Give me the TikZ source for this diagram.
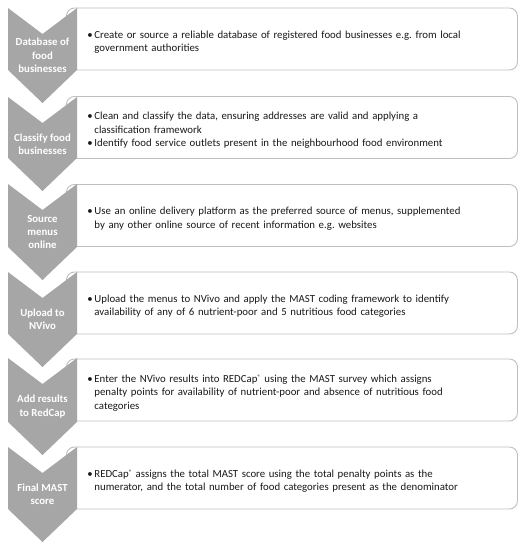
\documentclass[tikz,border=0pt]{standalone}
\usepackage{fontspec}
\setmainfont{Carlito}
\definecolor{chevgray}{RGB}{166, 166, 166}
\definecolor{boxline}{RGB}{191, 191, 191}
\definecolor{bodytext}{RGB}{25, 25, 25}
\usepackage{tikz}
\usetikzlibrary{calc}
\frenchspacing

\tikzset{
  stepbox/.style={draw=boxline, fill=white, line width=0.9pt, rounded corners=8pt,
    anchor=west, minimum width=451, minimum height=62, text width=437,
    inner xsep=7, inner ysep=0, align=left, text=bodytext,
    font=\fontsize{10.8}{13.6}\selectfont},
  chevfill/.style={fill=chevgray},
  chevlabel/.style={text=white, align=center, inner sep=0pt,
    font=\bfseries\fontsize{10.8}{13.4}\selectfont}
}

% bullet point with hanging indent
\newcommand{\bpoint}[1]{\par\leftskip=14pt\hangindent=7pt\hangafter=1\noindent
  \makebox[7pt][l]{\textbullet}#1\par}
\newcommand{\reg}{\raisebox{0.55ex}{\scalebox{0.6}{®}}}

% chevron: name, top, bottom of body, label
\newcommand{\chevron}[4]{%
  \fill[chevfill] (8,#2) -- (42.5,#2+26) -- (77,#2) -- (77,#3) -- (42.5,#3+33) -- (8,#3) -- cycle;
  \node[chevlabel] (#1) at (42.5,{(#2+#3+33)/2}) {#4};
}

\begin{document}
\begin{tikzpicture}[x=1pt, y=-1pt]
  \useasboundingbox (0,0) rectangle (525,550);

  % Step 1: database
  \node[stepbox] (box1) at (66,39) {
    \bpoint{Create or source a reliable database of registered food businesses e.g. from local\newline
    government authorities}
  };
  \chevron{lab1}{8}{70}{Database of\\food\\businesses}

  % Step 2: classify
  \node[stepbox] (box2) at (66,127.5) {
    \bpoint{Clean and classify the data, ensuring addresses are valid and applying a\newline
    classification framework}
    \bpoint{Identify food service outlets present in the neighbourhood food environment}
  };
  \chevron{lab2}{97}{158}{Classify food\\businesses}

  % Step 3: source menus
  \node[stepbox] (box3) at (66,215.5) {
    \bpoint{Use an online delivery platform as the preferred source of menus, supplemented\newline
    by any other online source of recent information e.g. websites}
  };
  \chevron{lab3}{184}{247}{Source\\menus\\online}

  % Step 4: upload
  \node[stepbox] (box4) at (66,303) {
    \bpoint{Upload the menus to NVivo and apply the MAST coding framework to identify\newline
    availability of any of 6 nutrient-poor and 5 nutritious food categories}
  };
  \chevron{lab4}{272}{334}{Upload to\\NVivo}

  % Step 5: RedCap
  \node[stepbox] (box5) at (66,390) {
    \bpoint{Enter the NVivo results into REDCap\reg{} using the MAST survey which assigns\newline
    penalty points for availability of nutrient-poor and absence of nutritious food\newline
    categories}
  };
  \chevron{lab5}{358}{422}{Add results\\to RedCap}

  % Step 6: final score
  \node[stepbox] (box6) at (66,478) {
    \bpoint{REDCap\reg{} assigns the total MAST score using the total penalty points as the\newline
    numerator, and the total number of food categories present as the denominator}
  };
  \chevron{lab6}{447}{509}{Final MAST\\score}
\end{tikzpicture}
\end{document}
